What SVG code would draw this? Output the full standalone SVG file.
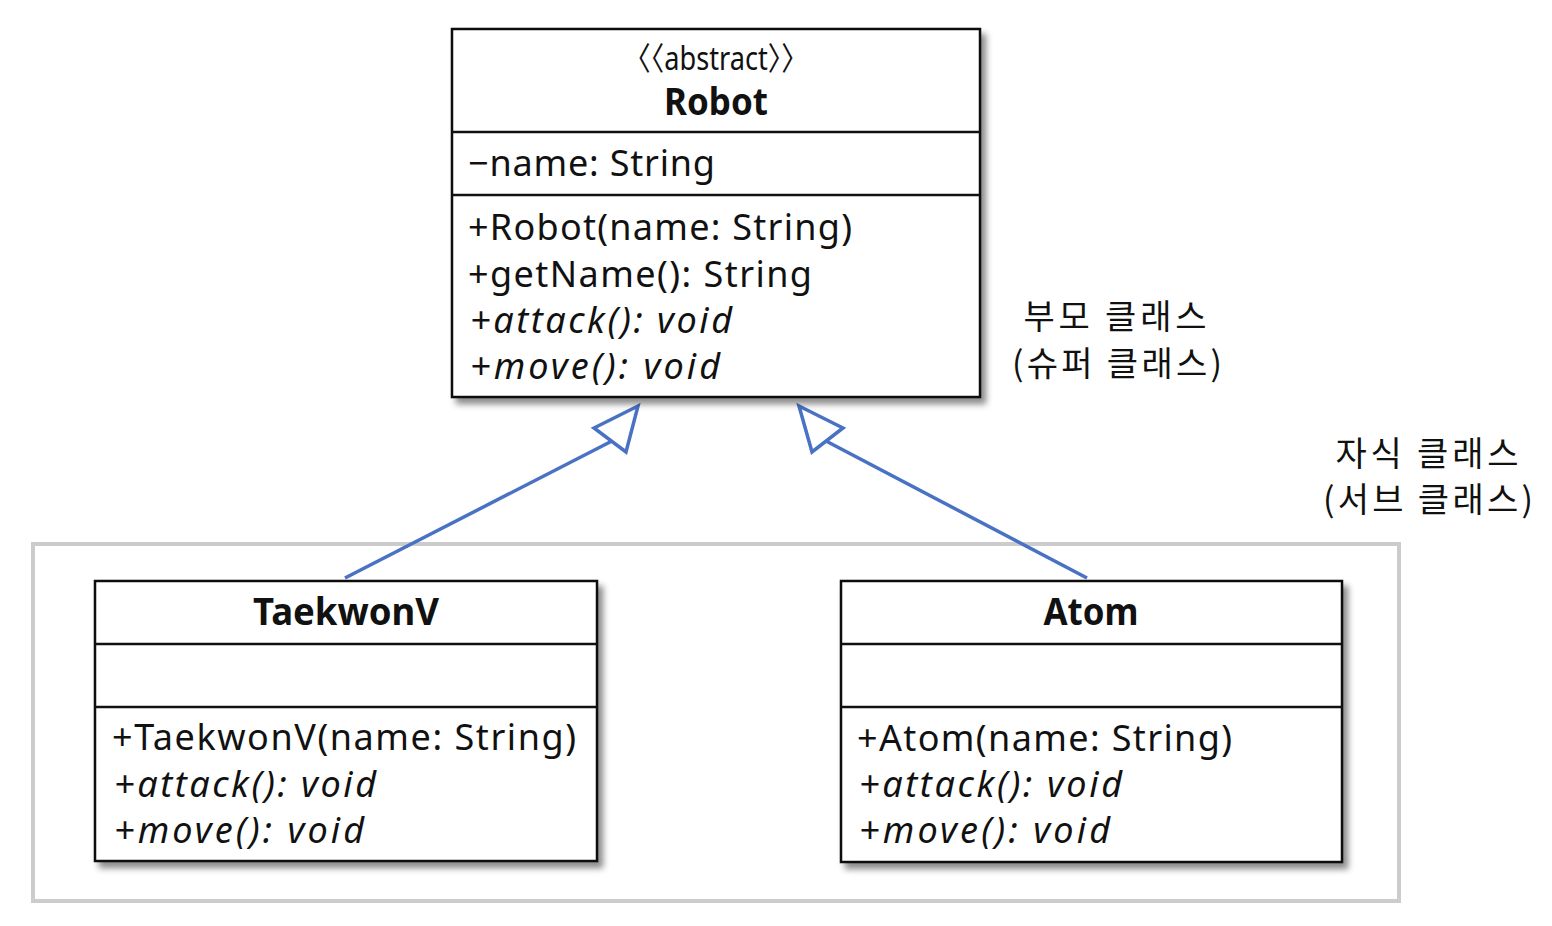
<svg xmlns="http://www.w3.org/2000/svg" width="1552" height="926" viewBox="0 0 1552 926">
<defs>
<filter id="sh" x="-5%" y="-5%" width="115%" height="115%">
<feDropShadow dx="5" dy="6" stdDeviation="3" flood-color="#000" flood-opacity="0.45"/>
</filter>
<style>
.box{fill:#fff;stroke:#111;stroke-width:2.5}
.div{stroke:#111;stroke-width:2.5}
text{font-family:"Noto Sans","Noto Sans CJK KR",sans-serif;fill:#111}
.t{font-size:36px}
.i{font-size:36px;font-style:italic}
.b{font-size:37px;font-weight:bold;text-anchor:middle}
.s{font-size:32px;text-anchor:middle}
.k{font-family:"Noto Sans CJK KR",sans-serif;font-size:34px;text-anchor:middle}
.conn{stroke:#4a72c4;stroke-width:3.5;fill:none}
</style>
</defs>
<rect x="33" y="544" width="1366" height="357" fill="none" stroke="#cccccc" stroke-width="4"/>
<g id="connectors">
<line class="conn" x1="345" y1="578" x2="612" y2="441"/>
<path class="conn" d="M638,406 L594,428 L626,452 Z" fill="#fff"/>
<line class="conn" x1="1087" y1="578" x2="826" y2="441"/>
<path class="conn" d="M799,406 L843,428 L812,452 Z" fill="#fff"/>
</g>
<g id="robot">
<rect class="box" x="452" y="29" width="528" height="368" filter="url(#sh)"/>
<line class="div" x1="452" y1="132" x2="980" y2="132"/>
<line class="div" x1="452" y1="195" x2="980" y2="195"/>
<text class="s" x="716" y="70" textLength="185" lengthAdjust="spacingAndGlyphs">〈〈abstract〉〉</text>
<text class="b" x="716" y="115" textLength="104" lengthAdjust="spacingAndGlyphs">Robot</text>
<text class="t" x="468" y="176" textLength="247">−name: String</text>
<text class="t" x="468" y="240" textLength="384">+Robot(name: String)</text>
<text class="t" x="468" y="287" textLength="344">+getName(): String</text>
<text class="i" x="470" y="333" textLength="262">+attack(): void</text>
<text class="i" x="470" y="379" textLength="250">+move(): void</text>
</g>
<g id="taekwonv">
<rect class="box" x="95" y="581" width="502" height="280" filter="url(#sh)"/>
<line class="div" x1="95" y1="644" x2="597" y2="644"/>
<line class="div" x1="95" y1="707" x2="597" y2="707"/>
<text class="b" x="346" y="625" textLength="186" lengthAdjust="spacingAndGlyphs">TaekwonV</text>
<text class="t" x="112" y="750" textLength="464">+TaekwonV(name: String)</text>
<text class="i" x="114" y="797" textLength="262">+attack(): void</text>
<text class="i" x="114" y="843" textLength="250">+move(): void</text>
</g>
<g id="atom">
<rect class="box" x="841" y="581" width="501" height="281" filter="url(#sh)"/>
<line class="div" x1="841" y1="644" x2="1342" y2="644"/>
<line class="div" x1="841" y1="707" x2="1342" y2="707"/>
<text class="b" x="1091" y="625" textLength="95" lengthAdjust="spacingAndGlyphs">Atom</text>
<text class="t" x="857" y="751" textLength="375">+Atom(name: String)</text>
<text class="i" x="859" y="797" textLength="263">+attack(): void</text>
<text class="i" x="859" y="843" textLength="251">+move(): void</text>
</g>
<g id="label-super">
<text class="k" x="1115" y="329" textLength="183">부모 클래스</text>
<text class="k" x="1117" y="376" textLength="210">(슈퍼 클래스)</text>
</g>
<g id="label-sub">
<text class="k" x="1427" y="466" textLength="183">자식 클래스</text>
<text class="k" x="1428" y="512" textLength="210">(서브 클래스)</text>
</g>
</svg>
